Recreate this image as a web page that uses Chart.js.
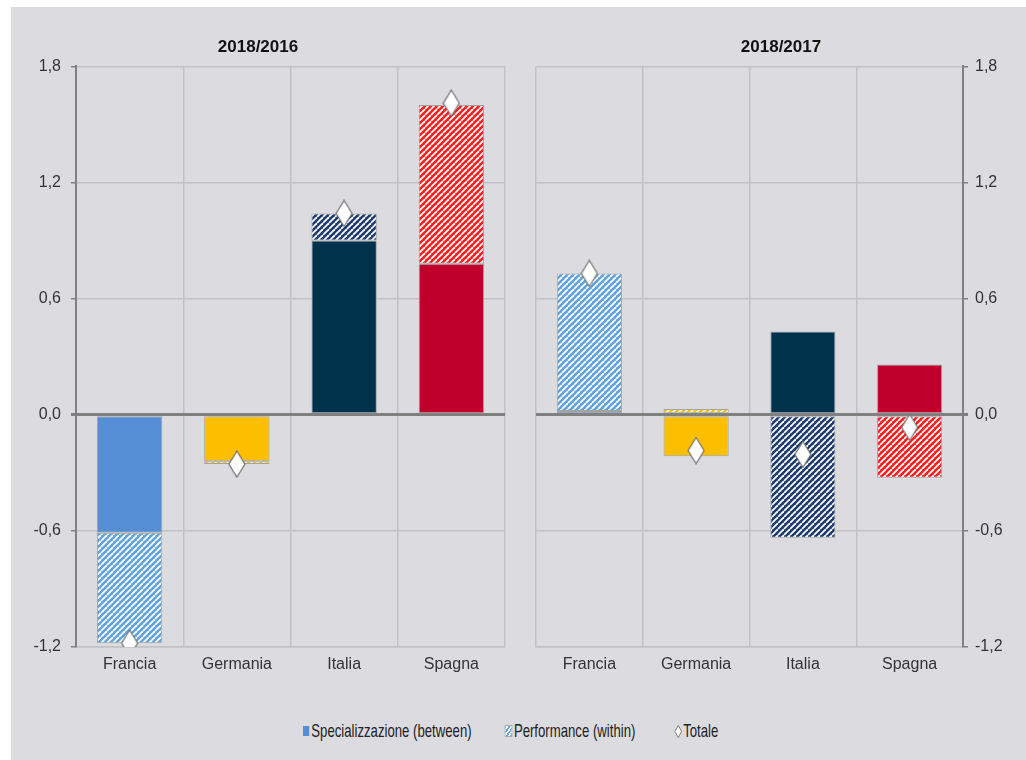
<!DOCTYPE html>
<html>
<head>
<meta charset="utf-8">
<script src="https://cdn.jsdelivr.net/npm/chart.js@4.4.1/dist/chart.umd.min.js"></script>
<style>
  body { margin: 0; background: #fff; width: 1026px; height: 760px; overflow: hidden;
         font-family: 'Liberation Sans Narrow', 'Arial Narrow', 'Liberation Sans', sans-serif; }
  #frame { position: absolute; left: 11px; top: 7px; width: 1015px; height: 753px; background: #dcdce0; }
  #c1 { position: absolute; left: 0; top: 0; }
  #c2 { position: absolute; left: 509px; top: 0; }
  /* condensed look for the legend line */
  #legend { position: absolute; left: 292px; top: 713px; display: flex; align-items: center;
            font-size: 19px; color: #222; white-space: nowrap;
            transform: scaleX(0.693); transform-origin: left center; }
  #legend .item { display: flex; align-items: center; }
  #legend .sq { width: 9px; height: 10px; margin-right: 3px; }
</style>
</head>
<body>
<div id="frame">
  <canvas id="c1" width="509" height="680"></canvas>
  <canvas id="c2" width="506" height="680"></canvas>
  <div id="legend">
    <div class="item" style="margin-right:49px">
      <span class="sq" style="background:#558ed5"></span>Specializzazione (between)
    </div>
    <div class="item" style="margin-right:56px">
      <span class="sq" style="background:repeating-linear-gradient(-45deg,#5ea2de 0 2px,#fff 2px 4px);outline:1px solid #aaa"></span>Performance (within)
    </div>
    <div class="item">
      <svg width="11" height="13" style="margin-right:2px"><path d="M5.5 0.5 L10.5 6.5 L5.5 12.5 L0.5 6.5 Z" fill="#fff" stroke="#666" stroke-width="1"/></svg>Totale
    </div>
  </div>
</div>

<script>
  const paesi = ["Francia", "Germania", "Italia", "Spagna"];

  // 2018/2016
  const between16 = [-0.61, -0.24, 0.90, 0.78];
  const within16 = [-0.57, -0.015, 0.14, 0.82];
  const totale16 = [-1.18, -0.255, 1.04, 1.61];

  // 2018/2017
  const between17 = [0.02, -0.215, 0.43, 0.26];
  const within17 = [0.71, 0.03, -0.635, -0.325];
  const totale17 = [0.73, -0.185, -0.205, -0.065];

  const yTicks = [-1.2, -0.6, 0, 0.6, 1.2, 1.8];

  const pieni = ["#558ed5", "#fcbf00", "#00324b", "#c0002a"];
  const righe = ["#5ea2de", "#fcbf00", "#1d3a70", "#ff1c1c"];

  const FONT = "'Liberation Sans Narrow', 'Arial Narrow', 'Liberation Sans', sans-serif";

  // white "/" stripes over the country colour
  function tratteggio(col) {
    const c = document.createElement("canvas");
    c.width = 6; c.height = 6;
    const g = c.getContext("2d");
    g.fillStyle = col;
    g.fillRect(0, 0, 6, 6);
    g.strokeStyle = "#fff";
    g.lineWidth = 1.8;
    for (const k of [-6, 0, 6]) {
      g.beginPath(); g.moveTo(k, 6); g.lineTo(k + 6, 0); g.stroke();
    }
    return g.createPattern(c, "repeat");
  }

  function rombo() {
    const c = document.createElement("canvas");
    c.width = 18; c.height = 28;
    const g = c.getContext("2d");
    g.beginPath();
    g.moveTo(9, 1); g.lineTo(17, 14); g.lineTo(9, 27); g.lineTo(1, 14); g.closePath();
    g.fillStyle = "#fff"; g.fill();
    g.strokeStyle = "#6f6f6f"; g.lineWidth = 1.2; g.stroke();
    return c;
  }

  const diamond = rombo();
  const pattern = righe.map(tratteggio);

  function pannello(id, titolo, between, within, totale, lato) {
    const destra = lato === "right";
    return new Chart(document.getElementById(id), {
      type: "bar",
      data: {
        labels: paesi,
        datasets: [
          {
            label: "Totale",
            type: "line",
            data: totale,
            stack: "tot",
            showLine: false,
            pointStyle: diamond,
            pointRadius: 9,
            order: 0,
          },
          {
            label: "Specializzazione (between)",
            data: between,
            stack: "s",
            backgroundColor: pieni,
            borderColor: "#a3a3a6",
            borderWidth: 1,
            borderSkipped: false,
            order: 1,
          },
          {
            label: "Performance (within)",
            data: within,
            stack: "s",
            backgroundColor: pattern,
            borderColor: "#a3a3a6",
            borderWidth: 1,
            borderSkipped: false,
            order: 1,
          },
        ],
      },
      options: {
        responsive: false,
        animation: false,
        events: [],
        layout: { padding: destra ? { left: 16, right: 0 } : { left: 0, right: 15 } },
        datasets: { bar: { categoryPercentage: 1, barPercentage: 0.61 } },
        plugins: {
          legend: { display: false },
          tooltip: { enabled: false },
          title: {
            display: true,
            text: titolo,
            color: "#111",
            font: { family: FONT, size: 17, weight: "bold" },
            padding: { top: 30, bottom: 9 },
          },
        },
        scales: {
          x: {
            stacked: true,
            afterFit: (s) => { s.height = 40; },
            grid: { color: "#c2c2c5", lineWidth: 1.5, drawTicks: false },
            border: { color: "#c2c2c5", width: 1.5 },
            ticks: { color: "#333", padding: 8, font: { family: FONT, size: 16 } },
          },
          y: {
            stacked: true,
            position: lato,
            min: -1.2,
            max: 1.8,
            afterFit: (s) => { s.width = destra ? 63 : 65; },
            afterBuildTicks: (s) => { s.ticks = yTicks.map((v) => ({ value: v })); },
            grid: {
              color: (c) => (c.tick && c.tick.value === 0 ? "#808080" : "#c2c2c5"),
              lineWidth: (c) => (c.tick && c.tick.value === 0 ? 3 : 1.5),
              tickColor: "#808080",
              tickLength: 5,
            },
            border: { color: "#808080", width: 2 },
            ticks: {
              color: "#333",
              padding: destra ? 7 : 10,
              font: { family: FONT, size: 16 },
              callback: (v) => v.toFixed(1).replace(".", ","),
            },
          },
        },
      },
    });
  }

  pannello("c1", "2018/2016", between16, within16, totale16, "left");
  pannello("c2", "2018/2017", between17, within17, totale17, "right");
</script>
</body>
</html>
